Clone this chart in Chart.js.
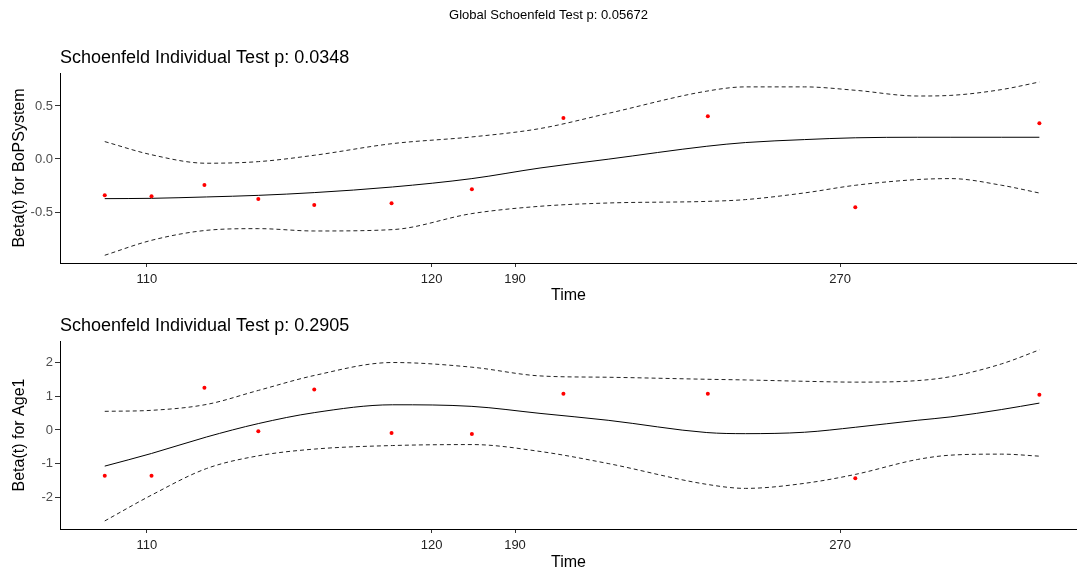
<!DOCTYPE html>
<html>
<head>
<meta charset="utf-8">
<script src="https://cdn.jsdelivr.net/npm/chart.js@4"></script>
<style>
  html, body { margin: 0; background: #fff; overflow: hidden; }
  canvas { display: block; }
</style>
</head>
<body>
<canvas id="topChart" width="1081" height="302"></canvas>
<canvas id="bottomChart" width="1081" height="267"></canvas>
<script>
// transformed event times (0 = left edge of axis, 1 = right edge)
const eventTimes = [0.044, 0.090, 0.142, 0.195, 0.250, 0.326, 0.405, 0.495, 0.637, 0.782, 0.963];
const residBoP = [-0.342, -0.352, -0.245, -0.377, -0.434, -0.418, -0.286, 0.387, 0.403, -0.456, 0.337];
const residAge = [-1.365, -1.365, 1.258, -0.04, 1.208, -0.09, -0.12, 1.08, 1.08, -1.44, 1.05];

// smooth fit and confidence band
const fitTimes = [0.044, 0.090, 0.144, 0.195, 0.250, 0.327, 0.405, 0.472, 0.539, 0.636, 0.674, 0.732, 0.782, 0.843, 0.876, 0.926, 0.963];
const fitBoP = [-0.374, -0.371, -0.358, -0.343, -0.317, -0.264, -0.185, -0.085, -0.002, 0.12, 0.155, 0.183, 0.2, 0.205, 0.205, 0.205, 0.205];
const upperBoP = [0.164, 0.04, -0.04, -0.025, 0.035, 0.145, 0.208, 0.287, 0.43, 0.64, 0.68, 0.68, 0.648, 0.594, 0.6, 0.655, 0.726];
const lowerBoP = [-0.908, -0.767, -0.673, -0.657, -0.679, -0.666, -0.515, -0.446, -0.415, -0.40, -0.383, -0.32, -0.248, -0.194, -0.185, -0.248, -0.321];
const fitAge = [-1.077, -0.70, -0.21, 0.19, 0.516, 0.75, 0.703, 0.494, 0.288, -0.077, -0.11, -0.068, 0.08, 0.288, 0.39, 0.61, 0.80];
const upperAge = [0.555, 0.585, 0.76, 1.178, 1.623, 2.009, 1.87, 1.61, 1.57, 1.51, 1.49, 1.45, 1.425, 1.47, 1.59, 1.97, 2.385];
const lowerAge = [-2.71, -1.94, -1.15, -0.77, -0.57, -0.464, -0.435, -0.64, -1.0, -1.62, -1.74, -1.59, -1.324, -0.88, -0.75, -0.72, -0.78];

// x ticks: positions on transformed scale, labels in original time
const timeTickPos = [0.0853, 0.3655, 0.4474, 0.767];
const timeTickLabels = ['110', '120', '190', '270'];

const FONT = '"Liberation Sans", Arial, sans-serif';

const titles = {
  id: 'titles',
  afterDraw(chart, args, opts) {
    const { ctx, chartArea } = chart;
    ctx.save();
    ctx.fillStyle = '#000';
    ctx.textBaseline = 'middle';
    ctx.font = '18px ' + FONT;
    ctx.textAlign = 'left';
    ctx.fillText(opts.text, chartArea.left, chartArea.top - 15);
    if (opts.global) {
      ctx.font = '13px ' + FONT;
      ctx.textAlign = 'center';
      ctx.fillText(opts.global, chart.width / 2 + 8, 15);
    }
    ctx.restore();
  }
};

function toXY(xs, ys) {
  return xs.map((x, i) => ({ x: x, y: ys[i] }));
}

function makePanel(id, opts) {
  const dashed = {
    showLine: true, pointRadius: 0, borderColor: '#222', borderWidth: 1,
    borderDash: [4, 3], cubicInterpolationMode: 'monotone', fill: false
  };
  new Chart(document.getElementById(id), {
    type: 'scatter',
    data: {
      datasets: [{
        data: toXY(eventTimes, opts.resid),
        pointRadius: 2, pointBackgroundColor: '#ff0000', pointBorderWidth: 0
      }, {
        data: toXY(fitTimes, opts.fit),
        showLine: true, pointRadius: 0, borderColor: '#000', borderWidth: 1,
        cubicInterpolationMode: 'monotone', fill: false
      }, Object.assign({ data: toXY(fitTimes, opts.upper) }, dashed),
      Object.assign({ data: toXY(fitTimes, opts.lower) }, dashed)]
    },
    options: {
      responsive: false,
      animation: false,
      layout: { padding: { top: opts.padTop, left: 0, right: 0, bottom: 0 } },
      plugins: {
        legend: { display: false },
        tooltip: { enabled: false },
        titles: { text: opts.title, global: opts.global }
      },
      scales: {
        x: {
          type: 'linear', min: 0, max: 1,
          afterFit(s) { s.height = opts.xHeight; },
          afterBuildTicks(s) { s.ticks = timeTickPos.map(v => ({ value: v })); },
          ticks: {
            callback: (v, i) => timeTickLabels[i],
            font: { family: FONT, size: 13 }, color: '#222', padding: 5, maxRotation: 0
          },
          grid: { drawOnChartArea: false, tickLength: 4, color: '#333' },
          border: { color: '#000', width: 1 },
          title: {
            display: true, text: 'Time', color: '#000',
            font: { family: FONT, size: 16, lineHeight: 1 }, padding: { top: 0, bottom: -2 }
          }
        },
        y: {
          min: opts.yMin, max: opts.yMax,
          afterFit(s) { s.width = 60; },
          afterBuildTicks(s) { s.ticks = opts.yTicks.map(v => ({ value: v })); },
          ticks: {
            callback: opts.yFormat,
            font: { family: FONT, size: 13 }, color: '#4d4d4d', padding: 2
          },
          grid: { drawOnChartArea: false, tickLength: 5, color: '#333' },
          border: { color: '#000', width: 1 },
          title: {
            display: true, text: opts.yTitle, color: '#000',
            font: { family: FONT, size: 16 }, padding: { top: 10, bottom: 0 }
          }
        }
      }
    },
    plugins: [titles]
  });
}

makePanel('topChart', {
  resid: residBoP, fit: fitBoP, upper: upperBoP, lower: lowerBoP,
  title: 'Schoenfeld Individual Test p: 0.0348',
  global: 'Global Schoenfeld Test p: 0.05672',
  yTitle: 'Beta(t) for BoPSystem',
  yMin: -0.981, yMax: 0.811, yTicks: [-0.5, 0, 0.5],
  yFormat: v => v.toFixed(1),
  padTop: 73, xHeight: 39
});

makePanel('bottomChart', {
  resid: residAge, fit: fitAge, upper: upperAge, lower: lowerAge,
  title: 'Schoenfeld Individual Test p: 0.2905',
  yTitle: 'Beta(t) for Age1',
  yMin: -2.95, yMax: 2.65, yTicks: [-2, -1, 0, 1, 2],
  yFormat: v => String(v),
  padTop: 39, xHeight: 40
});
</script>
</body>
</html>
